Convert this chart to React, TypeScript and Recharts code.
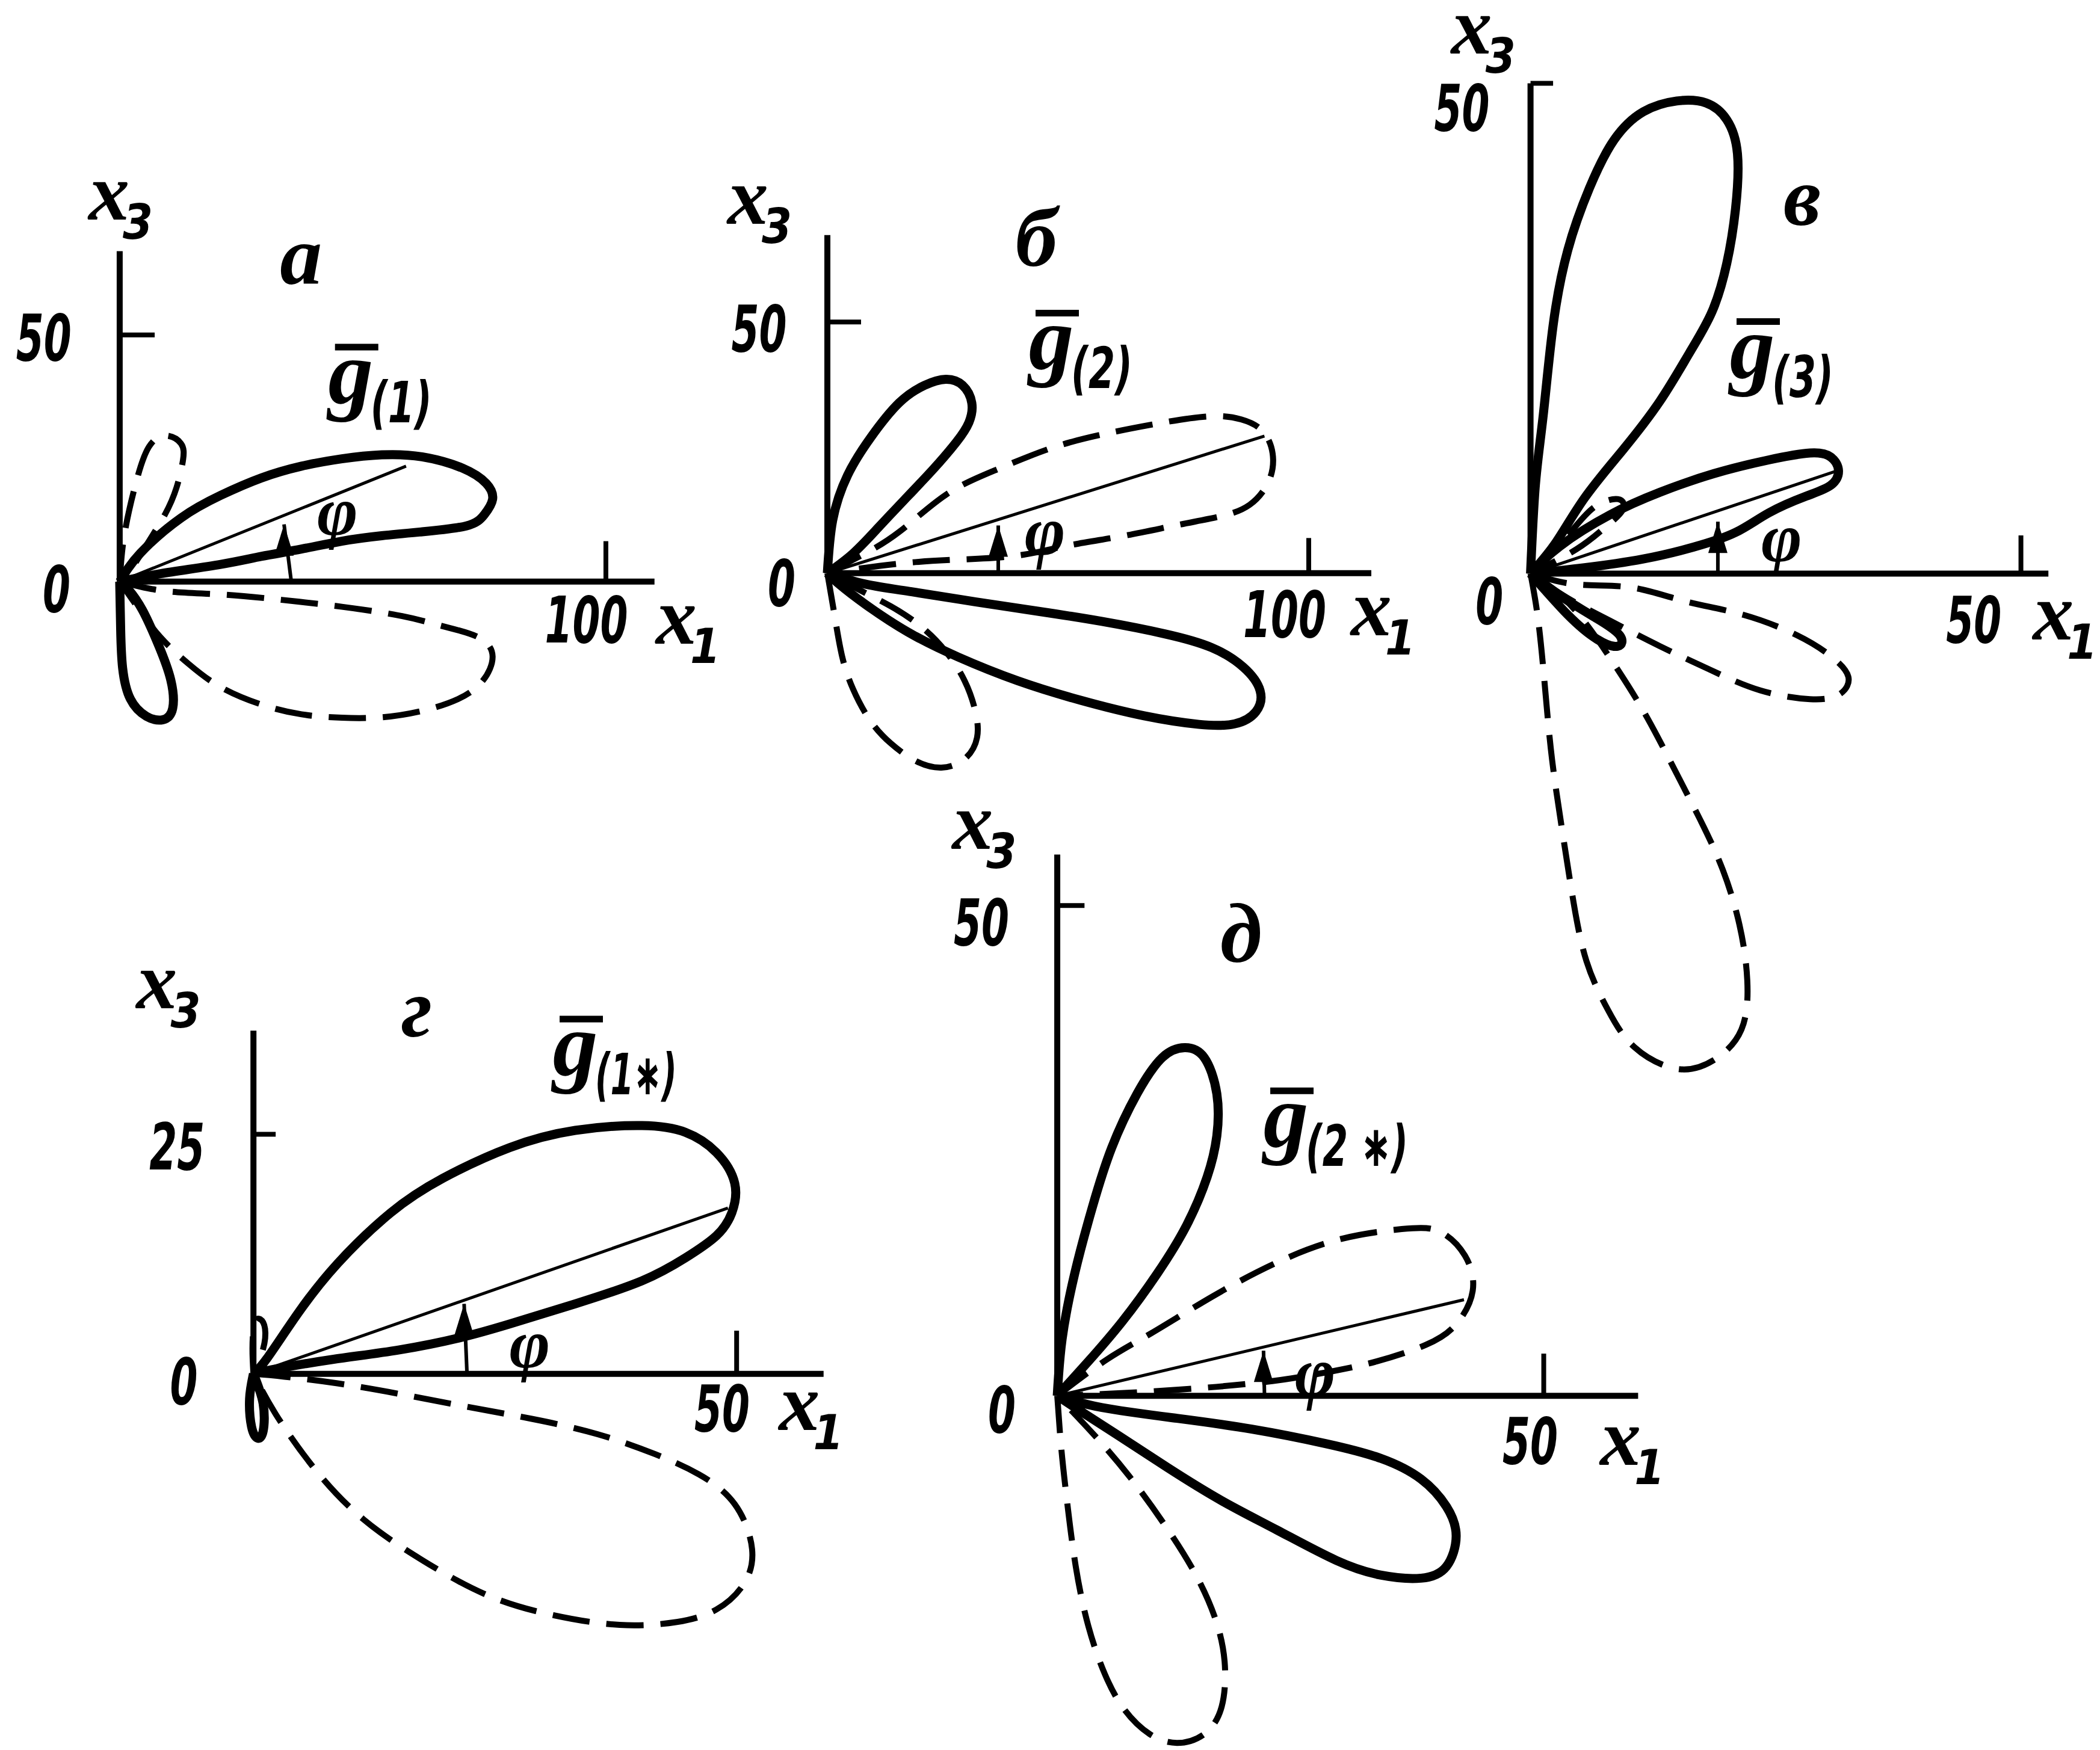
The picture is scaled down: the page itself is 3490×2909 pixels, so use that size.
import React from 'react';
import { ComposedChart, Line, Scatter, XAxis, YAxis, ReferenceLine } from 'recharts';

type P = { x: number; y: number };
type Note = { x: number; y: number; kind: 'num' | 'var' | 'g' | 'letter' | 'phi'; text: string; sub?: string };

const pts = (a: [number, number][]): P[] => a.map(([x, y]) => ({ x, y }));

// ---------- а : g(1) ----------
const aSolidMain = pts([[0,0],[4.3,5.8],[12.6,12.9],[20.8,17.5],[29.1,21.0],[37.4,23.4],[45.7,24.9],[53.9,25.7],[62.2,25.3],[70.5,23.0],[75.4,19.9],[76.7,16.7],[75.0,13.6],[71.3,11.3],[62.2,10.1],[53.9,9.3],[45.7,8.2],[37.4,6.6],[29.1,5.1],[20.8,3.5],[8.4,1.6],[0,0]]);
const aSolidLow = pts([[0,0],[0.2,-9.7],[0.6,-17.5],[2.2,-23.8],[5.5,-27.3],[8.9,-28.0],[10.9,-25.7],[10.5,-19.9],[8.0,-12.9],[4.7,-5.8],[1.8,-1.6],[0,0]]);
const aDashUp = pts([[0,0],[1.0,9.7],[3.5,20.6],[6.0,27.3],[9.3,29.6],[12.6,28.0],[13.0,24.5],[11.7,19.1],[9.3,13.6],[5.5,7.4],[2.2,2.3],[0,0]]);
const aDashLow = pts([[0,0],[9.3,-1.9],[20.8,-2.6],[33.3,-3.7],[45.7,-5.1],[58.1,-7.0],[66.3,-9.0],[73.8,-11.3],[76.7,-15.2],[74.6,-20.2],[69.6,-23.8],[62.2,-26.2],[53.9,-27.5],[45.7,-27.6],[37.4,-26.9],[29.1,-24.9],[20.8,-21.4],[14.2,-16.7],[8.4,-11.3],[3.9,-5.5],[0,0]]);
const aRay = pts([[0,0],[58.9,23.4]]);
const aArrow = pts([[35.3,0],[33.8,11.6]]);
const aNotes: Note[] = [
  { x: -2.2, y: 77, kind: 'var', text: 'x', sub: '3' },
  { x: -13, y: -1.5, kind: 'num', text: '0' },
  { x: -15.6, y: 49.5, kind: 'num', text: '50' },
  { x: 96, y: -7.7, kind: 'num', text: '100' },
  { x: 114.5, y: -8.9, kind: 'var', text: 'x', sub: '1' },
  { x: 37.3, y: 65.8, kind: 'letter', text: 'а' },
  { x: 47.5, y: 38.4, kind: 'g', text: 'g', sub: '(1)' },
  { x: 44.8, y: 12.9, kind: 'phi', text: 'φ' },
];

// ---------- б : g(2) ----------
const bSolidUp = pts([[0,0],[1.1,10.5],[4.2,19.5],[9.0,27.0],[14.9,33.9],[20.2,37.4],[24.6,38.6],[28.1,37.4],[30.0,33.9],[29.4,30.0],[26.8,26.1],[21.9,20.6],[15.8,14.4],[10.5,9.0],[5.3,3.9],[0,0]]);
const bSolidLow = pts([[0,0],[8.0,-2.2],[17.5,-3.7],[30.7,-5.7],[43.9,-7.6],[57.0,-9.6],[70.2,-12.1],[79.8,-14.8],[86.4,-18.7],[89.9,-23.4],[89.0,-27.6],[84.6,-30.0],[77.2,-30.1],[65.8,-28.4],[52.6,-25.3],[39.5,-21.4],[27.2,-16.7],[16.7,-11.7],[7.9,-6.2],[2.6,-2.3],[0,0]]);
const bDashUp = pts([[0,0],[7.0,3.5],[14.9,8.2],[24.6,15.6],[35.1,20.6],[46.5,24.9],[57.0,27.6],[67.5,29.6],[78.9,31.2],[86.0,30.6],[90.4,28.3],[92.5,23.8],[91.7,18.3],[87.7,13.6],[81.6,11.3],[72.8,9.6],[61.4,7.4],[50.0,5.5],[39.5,3.5],[27.2,2.7],[14.9,1.9],[0,0]]);
const bDashLow = pts([[0,0],[1.6,-9.0],[3.1,-16.7],[5.3,-23.0],[8.8,-29.2],[13.2,-33.9],[18.4,-37.4],[23.7,-38.7],[28.5,-37.0],[31.1,-32.7],[30.7,-27.3],[28.5,-21.4],[24.6,-15.6],[19.3,-10.5],[13.2,-6.6],[7.0,-3.5],[0,0]]);
const bRay = pts([[0,0],[90.8,27.3]]);
const bArrow = pts([[35.5,0],[35.5,9.5]]);
const bNotes: Note[] = [
  { x: -16.5, y: 73.2, kind: 'var', text: 'x', sub: '3' },
  { x: -9.5, y: -1.9, kind: 'num', text: '0' },
  { x: -14.2, y: 48.7, kind: 'num', text: '50' },
  { x: 95, y: -8.2, kind: 'num', text: '100' },
  { x: 113, y: -8.8, kind: 'var', text: 'x', sub: '1' },
  { x: 43.4, y: 66.6, kind: 'letter', text: 'б' },
  { x: 46.5, y: 42.8, kind: 'g', text: 'g', sub: '(2)' },
  { x: 45.2, y: 7.0, kind: 'phi', text: 'φ' },
];

// ---------- в : g(3) ----------
const cSolidUp = pts([[0,0],[0.5,9.1],[1.3,16.2],[2.3,25.3],[3.8,33.0],[6.0,39.3],[8.5,44.2],[11.5,47.1],[14.9,48.2],[17.9,48.0],[20.0,46.3],[21.1,42.8],[20.9,37.2],[20.0,31.6],[18.5,26.7],[16.2,22.5],[13.2,17.6],[9.4,12.6],[5.5,7.7],[2.6,3.2],[0,0]]);
const cSolidMain = pts([[0,0],[3.0,2.8],[8.1,6.0],[13.2,8.3],[18.7,10.2],[24.3,11.6],[28.5,12.3],[30.6,11.9],[31.4,10.5],[30.6,9.0],[28.1,7.9],[24.3,6.2],[20.9,4.2],[16.6,2.7],[11.5,1.5],[5.5,0.6],[0,0]]);
const cSolidSmall = pts([[0,0],[3.4,-2.5],[6.8,-4.6],[9.1,-6.3],[8.9,-7.4],[6.8,-6.7],[3.8,-4.2],[0,0]]);
const cDashSmall = pts([[0,0],[3.8,3.9],[6.4,6.7],[8.9,7.6],[9.4,6.5],[7.7,4.8],[4.7,2.5],[0,0]]);
const cDashLow = pts([[0,0],[4.7,-1.1],[10.2,-1.4],[15.7,-2.8],[21.7,-4.2],[27.2,-6.3],[30.6,-8.4],[32.4,-10.5],[31.5,-12.3],[28.5,-12.8],[23.4,-11.9],[18.3,-9.8],[13.2,-7.4],[8.1,-4.8],[3.8,-2.5],[0,0]]);
const cDashDown = pts([[0,0],[0.8,-4.9],[1.5,-11.9],[2.2,-19.0],[3.2,-26.0],[4.3,-33.0],[5.7,-39.5],[7.9,-44.5],[10.6,-48.3],[14.9,-50.5],[18.7,-49.6],[21.5,-46.5],[22.1,-41.5],[21.3,-35.8],[19.6,-30.2],[17.4,-25.3],[14.9,-20.4],[11.9,-14.7],[8.9,-9.8],[5.5,-4.9],[2.6,-1.8],[0,0]]);
const cRay = pts([[0,0],[31.3,10.5]]);
const cArrow = pts([[19.1,0],[19.1,5.3]]);
const cNotes: Note[] = [
  { x: -6.0, y: 54.9, kind: 'var', text: 'x', sub: '3' },
  { x: -7.0, y: 47.5, kind: 'num', text: '50' },
  { x: -4.2, y: -2.8, kind: 'num', text: '0' },
  { x: 45.2, y: -4.7, kind: 'num', text: '50' },
  { x: 53.3, y: -4.9, kind: 'var', text: 'x', sub: '1' },
  { x: 27.7, y: 38.3, kind: 'letter', text: 'в' },
  { x: 22.6, y: 21.1, kind: 'g', text: 'g', sub: '(3)' },
  { x: 25.6, y: 3.0, kind: 'phi', text: 'φ' },
];

// ---------- г : g(1*) ----------
const dSolidMain = pts([[0,0],[1.4,1.6],[4.6,6.3],[8.7,11.5],[14.2,16.8],[19.6,20.4],[26.5,23.6],[33.3,25.4],[40.2,25.9],[44.7,25.2],[47.9,23.1],[49.8,19.9],[49.5,16.8],[47.9,14.4],[44.7,12.1],[40.2,9.7],[33.3,7.3],[26.5,5.2],[21.5,3.8],[15.1,2.5],[8.2,1.5],[2.3,0.5],[0,0]]);
const dSolidTiny = pts([[0,0],[-0.4,-2.6],[-0.2,-5.5],[0.4,-6.7],[1.0,-6.0],[1.0,-3.1],[0,0]]);
const dDashTiny = pts([[0,0],[-0.1,2.6],[0.1,5.2],[0.7,5.7],[1.2,4.7],[1.0,2.6],[0,0]]);
const dDashLow = pts([[0,0],[3.2,-0.3],[8.7,-1.0],[15.1,-2.1],[21.9,-3.4],[28.8,-4.7],[35.6,-6.3],[41.6,-8.4],[46.1,-10.5],[49.8,-13.6],[51.6,-18.3],[50.7,-22.0],[47.9,-24.6],[43.8,-25.9],[37.9,-26.2],[31.1,-25.2],[24.2,-23.1],[17.4,-19.4],[11.4,-15.2],[6.4,-10.0],[2.3,-4.2],[0,0]]);
const dRay = pts([[0,0],[49.1,17.3]]);
const dArrow = pts([[22.1,0],[21.8,7.3]]);
const dNotes: Note[] = [
  { x: -10, y: 40, kind: 'var', text: 'x', sub: '3' },
  { x: -7.9, y: 23.7, kind: 'num', text: '25' },
  { x: -7.2, y: -0.8, kind: 'num', text: '0' },
  { x: 48.5, y: -3.6, kind: 'num', text: '50' },
  { x: 56.5, y: -4.0, kind: 'var', text: 'x', sub: '1' },
  { x: 16.9, y: 38, kind: 'letter', text: 'г' },
  { x: 33.3, y: 32.3, kind: 'g', text: 'g', sub: '(1∗)' },
  { x: 28.6, y: 2.4, kind: 'phi', text: 'φ' },
];

// ---------- д : g(2*) ----------
const eSolidUp = pts([[0,0],[0.5,5.8],[1.8,12.5],[3.6,19.2],[5.6,25.3],[8.2,30.8],[10.8,34.5],[13.1,35.5],[15.1,34.5],[16.4,30.8],[16.4,26.5],[15.4,22.3],[13.3,17.4],[10.3,12.5],[6.7,7.6],[3.1,3.4],[0,0]]);
const eSolidLow = pts([[0,0],[4.6,-1.2],[12.3,-2.3],[20.0,-3.4],[27.7,-4.9],[33.3,-6.4],[37.4,-8.5],[40.0,-11.3],[41.0,-14.3],[40.0,-17.4],[37.4,-18.6],[33.3,-18.3],[28.7,-16.8],[22.6,-13.7],[16.9,-10.7],[11.3,-7.3],[6.2,-4.0],[2.6,-1.7],[0,0]]);
const eDashUp = pts([[0,0],[5.1,3.7],[9.7,6.4],[15.9,10.1],[22.6,13.6],[29.2,16.0],[35.4,17.0],[39.2,16.8],[41.9,14.3],[42.7,10.7],[41.0,7.3],[37.9,5.2],[32.8,3.5],[27.7,2.4],[22.1,1.5],[14.9,0.8],[7.2,0.3],[0,0]]);
const eDashDown = pts([[0,0],[0.4,-5.2],[1.0,-10.7],[1.9,-17.4],[3.2,-23.5],[4.9,-28.4],[6.9,-32.0],[9.5,-34.5],[12.3,-35.4],[15.1,-34.5],[16.9,-31.7],[17.2,-27.1],[16.2,-22.6],[14.1,-18.0],[11.0,-13.1],[7.4,-8.2],[3.8,-4.0],[0,0]]);
const eRay = pts([[0,0],[41.8,9.8]]);
const eArrow = pts([[21.3,0],[21.2,4.6]]);
const eNotes: Note[] = [
  { x: -8.7, y: 57.6, kind: 'var', text: 'x', sub: '3' },
  { x: -7.8, y: 48.3, kind: 'num', text: '50' },
  { x: -5.7, y: -1.4, kind: 'num', text: '0' },
  { x: 48.6, y: -4.6, kind: 'num', text: '50' },
  { x: 57.9, y: -5.2, kind: 'var', text: 'x', sub: '1' },
  { x: 18.9, y: 47, kind: 'letter', text: 'д' },
  { x: 23.5, y: 26.5, kind: 'g', text: 'g', sub: '(2 ∗)' },
  { x: 26.5, y: 1.7, kind: 'phi', text: 'φ' },
];

type PanelDef = {
  ox: number; oy: number; kx: number; ky: number;
  xd: [number, number]; yd: [number, number];
  xEnd: number; yTop: number;
  xTick: number; xTickLen: number; yTick: number; yTickLen: number;
  solid: P[][]; dashed: P[][]; ray: P[]; arrow: P[]; notes: Note[];
};

const panels: PanelDef[] = [
  { ox: 199, oy: 967, kx: 8.08, ky: 8.2, xd: [-24, 132], yd: [-40, 94], xEnd: 110, yTop: 67,
    xTick: 100, xTickLen: 8.2, yTick: 50, yTickLen: 7.2,
    solid: [aSolidMain, aSolidLow], dashed: [aDashUp, aDashLow], ray: aRay, arrow: aArrow, notes: aNotes },
  { ox: 1375, oy: 953, kx: 8.0, ky: 8.35, xd: [-28, 130], yd: [-50, 88], xEnd: 113, yTop: 67.3,
    xTick: 100, xTickLen: 7, yTick: 50, yTickLen: 7,
    solid: [bSolidUp, bSolidLow], dashed: [bDashUp, bDashLow], ray: bRay, arrow: bArrow, notes: bNotes },
  { ox: 2544, oy: 954, kx: 16.3, ky: 16.3, xd: [-12, 58.5], yd: [-56, 58.5], xEnd: 52.8, yTop: 50,
    xTick: 50, xTickLen: 3.9, yTick: 50, yTickLen: 2.3,
    solid: [cSolidUp, cSolidMain, cSolidSmall], dashed: [cDashSmall, cDashLow, cDashDown], ray: cRay, arrow: cArrow, notes: cNotes },
  { ox: 421, oy: 2284, kx: 16.06, ky: 15.93, xd: [-20, 66], yd: [-32, 48], xEnd: 59, yTop: 35.8,
    xTick: 50, xTickLen: 4.5, yTick: 25, yTickLen: 2.3,
    solid: [dSolidMain, dSolidTiny], dashed: [dDashTiny, dDashLow], ray: dRay, arrow: dArrow, notes: dNotes },
  { ox: 1757, oy: 2320, kx: 16.17, ky: 16.3, xd: [-18, 66], yd: [-40, 64], xEnd: 59.7, yTop: 55.2,
    xTick: 50, xTickLen: 4.3, yTick: 50, yTickLen: 2.8,
    solid: [eSolidUp, eSolidLow], dashed: [eDashUp, eDashDown], ray: eRay, arrow: eArrow, notes: eNotes },
];

const SERIF = "'Liberation Serif', 'DejaVu Serif', serif";
const NARROW = "'Liberation Sans Narrow', 'DejaVu Sans Condensed', sans-serif";
const INK = '#000';

// text annotations, anchored at the glyph centre given in data units
function Mark(props: any) {
  const { cx, cy, payload } = props;
  if (cx == null || cy == null || !payload) return null;
  const n = payload as Note;
  const common = { fill: INK, fontStyle: 'italic' as const, fontWeight: 700 };
  if (n.kind === 'num') {
    return (
      <text x={cx} y={cy + 38} textAnchor="middle" fontFamily={NARROW} fontSize={107}
        textLength={n.text.length * 46} lengthAdjust="spacingAndGlyphs" {...common}>{n.text}</text>
    );
  }
  if (n.kind === 'var') {
    return (
      <g>
        <text x={cx} y={cy + 30} textAnchor="middle" fontFamily={SERIF} fontSize={136} {...common}>{n.text}</text>
        <text x={cx + 48} y={cy + 62} textAnchor="middle" fontFamily={NARROW} fontSize={80} {...common}>{n.sub}</text>
      </g>
    );
  }
  if (n.kind === 'g') {
    const sub = n.sub || '';
    return (
      <g>
        <line x1={cx - 26} x2={cx + 46} y1={cy - 75} y2={cy - 75} stroke={INK} strokeWidth={11} />
        <text x={cx} y={cy + 18} textAnchor="middle" fontFamily={SERIF} fontSize={150} {...common}>g</text>
        <text x={cx + 33} y={cy + 50} textAnchor="start" fontFamily={NARROW} fontSize={95}
          textLength={sub.length * 34} lengthAdjust="spacingAndGlyphs" {...common}>{sub}</text>
      </g>
    );
  }
  if (n.kind === 'phi') {
    return <text x={cx} y={cy + 28} textAnchor="middle" fontFamily={SERIF} fontSize={116} {...common}>{n.text}</text>;
  }
  return <text x={cx} y={cy + 45} textAnchor="middle" fontFamily={SERIF} fontSize={140} {...common}>{n.text}</text>;
}

const arrowHead = (props: any) => {
  const { cx, cy, index } = props;
  if (index !== 1) return <g key={`ah-${index}`} />;
  return <path key="ah-tip" d={`M${cx},${cy} L${cx - 16},${cy + 52} L${cx + 16},${cy + 52} Z`} fill={INK} />;
};

function Panel({ p }: { p: PanelDef }) {
  const width = (p.xd[1] - p.xd[0]) * p.kx;
  const height = (p.yd[1] - p.yd[0]) * p.ky;
  const left = p.ox + p.xd[0] * p.kx;
  const top = p.oy - p.yd[1] * p.ky;
  return (
    <div style={{ position: 'absolute', left, top }}>
      <ComposedChart width={width} height={height} margin={{ top: 0, right: 0, bottom: 0, left: 0 }}>
        <XAxis type="number" dataKey="x" domain={p.xd} hide allowDataOverflow />
        <YAxis type="number" dataKey="y" domain={p.yd} hide allowDataOverflow />
        <ReferenceLine segment={[{ x: 0, y: 0 }, { x: p.xEnd, y: 0 }]} stroke={INK} strokeWidth={10} />
        <ReferenceLine segment={[{ x: 0, y: 0 }, { x: 0, y: p.yTop }]} stroke={INK} strokeWidth={10} />
        <ReferenceLine segment={[{ x: p.xTick, y: 0 }, { x: p.xTick, y: p.xTickLen }]} stroke={INK} strokeWidth={8} />
        <ReferenceLine segment={[{ x: 0, y: p.yTick }, { x: p.yTickLen, y: p.yTick }]} stroke={INK} strokeWidth={8} />
        {p.dashed.map((d, i) => (
          <Line key={`d${i}`} data={d} dataKey="y" type="natural" stroke={INK} strokeWidth={10}
            strokeDasharray="62 28" dot={false} activeDot={false} isAnimationActive={false} />
        ))}
        {p.solid.map((d, i) => (
          <Line key={`s${i}`} data={d} dataKey="y" type="natural" stroke={INK} strokeWidth={15}
            strokeLinejoin="round" dot={false} activeDot={false} isAnimationActive={false} />
        ))}
        <Line data={p.ray} dataKey="y" type="linear" stroke={INK} strokeWidth={5}
          dot={false} activeDot={false} isAnimationActive={false} />
        <Line data={p.arrow} dataKey="y" type="linear" stroke={INK} strokeWidth={6}
          dot={arrowHead} activeDot={false} isAnimationActive={false} />
        <Scatter data={p.notes} shape={(sp: any) => <Mark {...sp} />} isAnimationActive={false} />
      </ComposedChart>
    </div>
  );
}

export default function App() {
  return (
    <div style={{ position: 'absolute', left: 0, top: 0, width: 3490, height: 2909, background: '#fff', overflow: 'hidden' }}>
      {panels.map((p, i) => (
        <Panel key={i} p={p} />
      ))}
    </div>
  );
}
